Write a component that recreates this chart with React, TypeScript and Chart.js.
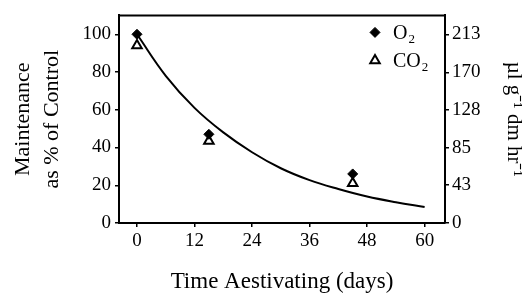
import React, { useEffect, useRef } from 'react';
import { Chart, registerables } from 'chart.js';

Chart.register(...registerables);

const fitDays = [0, 6, 12, 18, 24, 30, 36, 42, 48, 54, 60];
const fitValues = [100, 78, 61, 48, 37.5, 29, 22.7, 18, 14, 11, 8.5];
const sampleDays = [0, 15, 45];
const o2Values = [100, 47, 26];
const co2Values = [94, 43.5, 21];
const xTicks = [0, 12, 24, 36, 48, 60];
const leftTicks = [0, 20, 40, 60, 80, 100];
const rightTicks = [0, 43, 85, 128, 170, 213];
const legendLabels = [
  { main: 'O', sub: '2' },
  { main: 'CO', sub: '2' },
];

const FONT = "'Liberation Serif', 'Times New Roman', serif";

const framePlugin = {
  id: 'frameTop',
  afterDraw(chart: any) {
    const { ctx, chartArea } = chart;
    ctx.save();
    ctx.strokeStyle = '#000';
    ctx.lineWidth = 2;
    ctx.beginPath();
    ctx.moveTo(chartArea.left - 1, chartArea.top);
    ctx.lineTo(chartArea.right + 1, chartArea.top);
    ctx.stroke();
    ctx.restore();
  },
};

function drawMarker(ctx: CanvasRenderingContext2D, style: string, r: number, x: number, y: number) {
  ctx.beginPath();
  if (style === 'rectRot') {
    ctx.moveTo(x, y - r);
    ctx.lineTo(x + r, y);
    ctx.lineTo(x, y + r);
    ctx.lineTo(x - r, y);
  } else {
    const h = r * 1.5;
    const w = r * Math.sqrt(3);
    ctx.moveTo(x, y - r);
    ctx.lineTo(x + w / 2, y - r + h);
    ctx.lineTo(x - w / 2, y - r + h);
  }
  ctx.closePath();
  ctx.fill();
  ctx.stroke();
}

const legendPlugin = {
  id: 'insideLegend',
  afterDraw(chart: any) {
    const { ctx, chartArea } = chart;
    const dsIdx = [1, 2];
    ctx.save();
    legendLabels.forEach((lab, i) => {
      const ds = chart.data.datasets[dsIdx[i]];
      const mx = chartArea.right - 70;
      const my = chartArea.top + 17 + i * 28;
      ctx.fillStyle = ds.backgroundColor;
      ctx.strokeStyle = ds.borderColor;
      ctx.lineWidth = ds.borderWidth;
      drawMarker(ctx, ds.pointStyle, ds.pointRadius, mx, my);
      ctx.fillStyle = '#000';
      ctx.textBaseline = 'middle';
      ctx.textAlign = 'left';
      ctx.font = `20px ${FONT}`;
      const tx = mx + 18;
      ctx.fillText(lab.main, tx, my + 1);
      const w = ctx.measureText(lab.main).width;
      ctx.font = `13px ${FONT}`;
      ctx.fillText(lab.sub, tx + w + 1, my + 7);
    });
    ctx.restore();
  },
};

export default function App() {
  const ref = useRef<HTMLCanvasElement>(null);
  useEffect(() => {
    document.body.style.margin = '0';
    const tickGrid = { display: true, drawOnChartArea: false, drawTicks: true, tickLength: 4, color: '#000', lineWidth: 1.5 };
    const chart = new Chart(ref.current as HTMLCanvasElement, {
      type: 'scatter',
      data: {
        datasets: [
          {
            type: 'line',
            label: 'Fit',
            data: fitDays.map((d, i) => ({ x: d, y: fitValues[i] })),
            borderColor: '#000',
            backgroundColor: '#000',
            borderWidth: 2,
            pointRadius: 0,
            tension: 0.4,
            fill: false,
            yAxisID: 'y',
            order: 0,
          } as any,
          {
            label: 'O2',
            data: sampleDays.map((d, i) => ({ x: d, y: o2Values[i] })),
            pointStyle: 'rectRot',
            pointRadius: 5,
            backgroundColor: '#000',
            borderColor: '#000',
            borderWidth: 1,
            yAxisID: 'y',
            order: 1,
          },
          {
            label: 'CO2',
            data: sampleDays.map((d, i) => ({ x: d, y: co2Values[i] })),
            pointStyle: 'triangle',
            pointRadius: 5.5,
            backgroundColor: '#fff',
            borderColor: '#000',
            borderWidth: 2,
            yAxisID: 'y',
            order: 1,
          },
        ],
      },
      options: {
        animation: false,
        responsive: false,
        devicePixelRatio: 1,
        layout: { padding: { top: 8, left: 0, right: 0, bottom: 0 } },
        plugins: { legend: { display: false }, tooltip: { enabled: false } },
        scales: {
          x: {
            type: 'linear',
            min: -3.75,
            max: 64.25,
            afterBuildTicks: (s: any) => {
              s.ticks = xTicks.map((v) => ({ value: v }));
            },
            afterFit: (s: any) => {
              s.height = 76;
            },
            grid: tickGrid,
            border: { display: true, color: '#000', width: 2 },
            ticks: { color: '#000', font: { family: FONT, size: 19 }, padding: 3, maxRotation: 0 },
            title: {
              display: true,
              text: 'Time Aestivating (days)',
              color: '#000',
              font: { family: FONT, size: 23 },
              padding: { top: 0, bottom: 3 },
            },
          },
          y: {
            type: 'linear',
            position: 'left',
            min: 0,
            max: 110,
            afterBuildTicks: (s: any) => {
              s.ticks = leftTicks.map((v) => ({ value: v }));
            },
            afterFit: (s: any) => {
              s.width = 119;
            },
            grid: tickGrid,
            border: { display: true, color: '#000', width: 2 },
            ticks: { color: '#000', font: { family: FONT, size: 19 }, padding: 4 },
            title: {
              display: true,
              text: ['Maintenance', 'as % of Control'],
              color: '#000',
              font: { family: FONT, size: 22, lineHeight: 1.3 },
              padding: { top: 9, bottom: 0 },
            },
          },
          y1: {
            type: 'linear',
            position: 'right',
            min: 0,
            max: 213 * 1.1,
            afterBuildTicks: (s: any) => {
              s.ticks = rightTicks.map((v) => ({ value: v }));
            },
            afterFit: (s: any) => {
              s.width = 87;
            },
            grid: tickGrid,
            border: { display: true, color: '#000', width: 2 },
            ticks: { color: '#000', font: { family: FONT, size: 19 }, padding: 3, callback: (v: any) => String(v) },
            title: {
              display: true,
              text: 'µl g⁻¹ dm hr⁻¹',
              color: '#000',
              font: { family: FONT, size: 21 },
              padding: { top: 6, bottom: 0 },
            },
          },
        },
      },
      plugins: [framePlugin, legendPlugin],
    });
    return () => chart.destroy();
  }, []);
  return <canvas ref={ref} width={532} height={299} style={{ display: 'block' }} />;
}
